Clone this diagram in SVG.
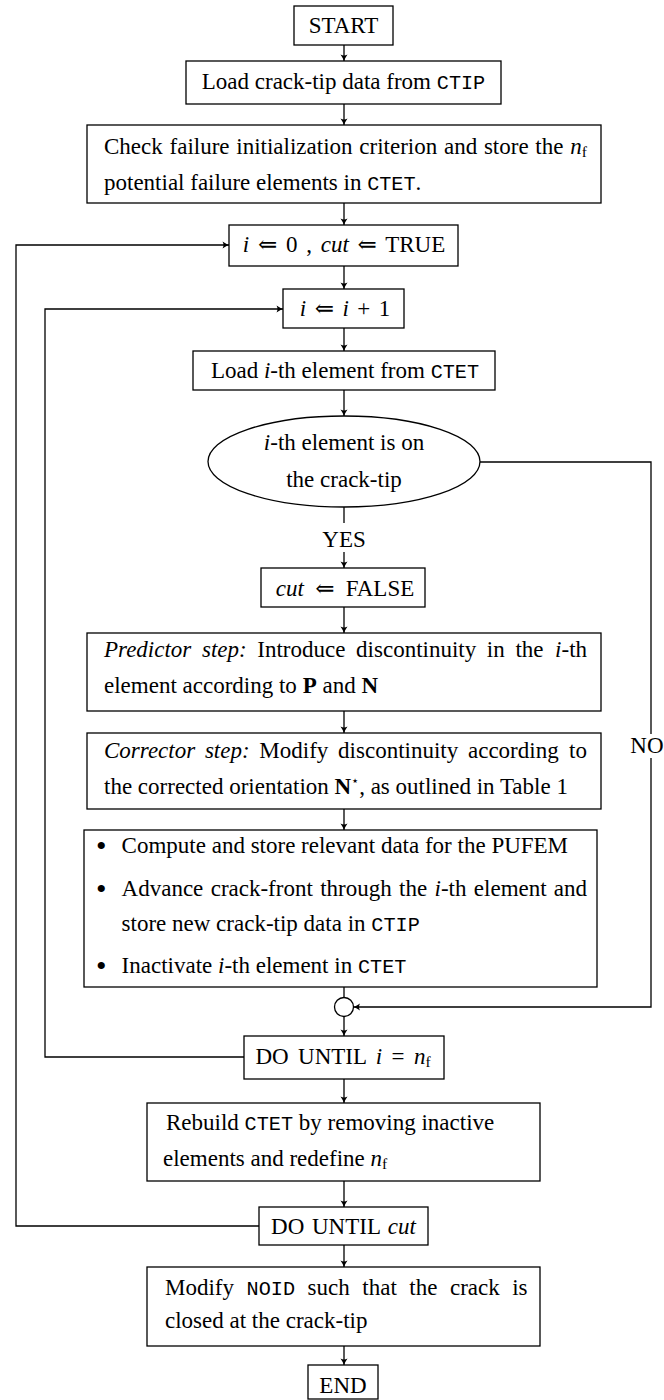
<svg xmlns="http://www.w3.org/2000/svg" width="664" height="1400" viewBox="0 0 664 1400">
<defs>
<style>
.box{fill:#fff;stroke:#000;stroke-width:1.3}
.ln{fill:none;stroke:#000;stroke-width:1.3}
.t{font-family:"Liberation Serif","DejaVu Serif",serif;font-size:23px;fill:#000}
.c{text-anchor:middle}
.m{font-family:"Liberation Mono","DejaVu Sans Mono",monospace;font-size:20.2px}
.it{font-style:italic}
.sub{font-size:15.5px}
.b{font-weight:bold}
.bul{font-family:"Liberation Serif","DejaVu Serif",serif;font-size:30px;fill:#000}
</style>
<marker id="ah" markerWidth="10" markerHeight="10" refX="8" refY="5" orient="auto" markerUnits="userSpaceOnUse">
<path d="M1.5,1.5 Q5.5,4.2 8,5 Q5.5,5.8 1.5,8.5 Q3.5,5 1.5,1.5 Z" fill="#000"/>
</marker>
</defs>
<rect width="664" height="1400" fill="#fff"/>

<g id="connectors">
<line class="ln" x1="344" y1="45" x2="344" y2="61" marker-end="url(#ah)"/>
<line class="ln" x1="344" y1="104" x2="344" y2="125" marker-end="url(#ah)"/>
<line class="ln" x1="344" y1="203" x2="344" y2="225" marker-end="url(#ah)"/>
<line class="ln" x1="344" y1="266" x2="344" y2="289" marker-end="url(#ah)"/>
<line class="ln" x1="344" y1="328" x2="344" y2="351" marker-end="url(#ah)"/>
<line class="ln" x1="344" y1="390" x2="344" y2="416" marker-end="url(#ah)"/>
<line class="ln" x1="344" y1="507" x2="344" y2="523"/>
<line class="ln" x1="344" y1="552" x2="344" y2="568" marker-end="url(#ah)"/>
<line class="ln" x1="344" y1="607" x2="344" y2="633" marker-end="url(#ah)"/>
<line class="ln" x1="344" y1="711" x2="344" y2="733" marker-end="url(#ah)"/>
<line class="ln" x1="344" y1="809" x2="344" y2="830" marker-end="url(#ah)"/>
<line class="ln" x1="344" y1="987" x2="344" y2="997.5"/>
<line class="ln" x1="344" y1="1016.5" x2="344" y2="1036" marker-end="url(#ah)"/>
<line class="ln" x1="344" y1="1079" x2="344" y2="1103" marker-end="url(#ah)"/>
<line class="ln" x1="344" y1="1181" x2="344" y2="1207" marker-end="url(#ah)"/>
<line class="ln" x1="344" y1="1245" x2="344" y2="1267" marker-end="url(#ah)"/>
<line class="ln" x1="344" y1="1346" x2="344" y2="1365" marker-end="url(#ah)"/>
<polyline class="ln" points="480,462 651,462 651,734"/>
<polyline class="ln" points="651,758 651,1007 353.5,1007" marker-end="url(#ah)"/>
<polyline class="ln" points="244,1057 45,1057 45,309 283,309" marker-end="url(#ah)"/>
<polyline class="ln" points="259,1226 16,1226 16,245 229,245" marker-end="url(#ah)"/>
<text class="t c" x="344" y="547">YES</text>
<text class="t" x="663.5" y="753" text-anchor="end">NO</text>
</g>

<g id="start">
<rect class="box" x="294" y="6" width="99" height="39"/>
<text class="t c" x="343.5" y="33">START</text>
</g>

<g id="load-ctip">
<rect class="box" x="186" y="61" width="315" height="43"/>
<text class="t c" x="343.5" y="89">Load crack-tip data from <tspan class="m">CTIP</tspan></text>
</g>

<g id="check">
<rect class="box" x="87" y="125" width="514" height="78"/>
<text class="t" x="104" y="154" word-spacing="1">Check failure initialization criterion and store the <tspan x="570.3" class="it">n</tspan><tspan class="sub" dy="3">f</tspan></text>
<text class="t" x="104" y="190">potential failure elements in <tspan class="m">CTET</tspan>.</text>
</g>

<g id="init">
<rect class="box" x="229" y="225" width="229" height="41"/>
<text class="t c" x="344" y="252" word-spacing="3"><tspan class="it">i</tspan> ⇐ 0 , <tspan class="it">cut</tspan> ⇐ TRUE</text>
</g>

<g id="incr">
<rect class="box" x="283" y="289" width="121" height="39"/>
<text class="t c" x="345" y="316" word-spacing="2.7"><tspan class="it">i</tspan> ⇐ <tspan class="it">i</tspan> + 1</text>
</g>

<g id="load-elem">
<rect class="box" x="193" y="351" width="302" height="39"/>
<text class="t c" x="345" y="378">Load <tspan class="it">i</tspan>-th element from <tspan class="m">CTET</tspan></text>
</g>

<g id="decision">
<ellipse class="box" cx="344" cy="461.5" rx="136" ry="45.5"/>
<text class="t c" x="344" y="450"><tspan class="it">i</tspan>-th element is on</text>
<text class="t c" x="344" y="487">the crack-tip</text>
</g>

<g id="cut-false">
<rect class="box" x="261" y="568" width="164" height="39"/>
<text class="t c" x="345" y="596" word-spacing="5.5"><tspan class="it">cut</tspan> ⇐ FALSE</text>
</g>

<g id="predictor">
<rect class="box" x="87" y="633" width="514" height="78"/>
<text class="t" x="104" y="657" word-spacing="4.9"><tspan class="it">Predictor step:</tspan> Introduce discontinuity in the <tspan x="555.1" class="it">i</tspan>-th</text>
<text class="t" x="104" y="693">element according to <tspan class="b">P</tspan> and <tspan class="b">N</tspan></text>
</g>

<g id="corrector">
<rect class="box" x="87" y="733" width="514" height="76"/>
<text class="t" x="104" y="758" word-spacing="4"><tspan class="it">Corrector step:</tspan> Modify discontinuity according <tspan x="569.1">to</tspan></text>
<text class="t" x="104" y="794">the corrected orientation <tspan class="b">N</tspan><tspan font-size="13" dy="-9">⋆</tspan><tspan dy="9">, as outlined in Table 1</tspan></text>
</g>

<g id="update">
<rect class="box" x="84" y="830" width="513" height="157"/>
<text class="bul" x="96" y="856">•</text>
<text class="t" x="121.6" y="853">Compute and store relevant data for the PUFEM</text>
<text class="bul" x="96" y="899">•</text>
<text class="t" x="121.6" y="896" word-spacing="1.6">Advance crack-front through the <tspan class="it">i</tspan>-th element <tspan x="553.8">and</tspan></text>
<text class="t" x="121.6" y="931">store new crack-tip data in <tspan class="m">CTIP</tspan></text>
<text class="bul" x="96" y="976">•</text>
<text class="t" x="121.6" y="973">Inactivate <tspan class="it">i</tspan>-th element in <tspan class="m">CTET</tspan></text>
</g>

<g id="junction">
<circle class="box" cx="344" cy="1007" r="9.5"/>
</g>

<g id="until-i">
<rect class="box" x="244" y="1036" width="200" height="43"/>
<text class="t c" x="343" y="1064" word-spacing="3.7">DO UNTIL <tspan class="it">i</tspan> = <tspan class="it">n</tspan><tspan class="sub" dy="3">f</tspan></text>
</g>

<g id="rebuild">
<rect class="box" x="147" y="1103" width="393" height="78"/>
<text class="t" x="166" y="1130">Rebuild <tspan class="m">CTET</tspan> by removing inactive</text>
<text class="t" x="163" y="1166">elements and redefine <tspan class="it">n</tspan><tspan class="sub" dy="3">f</tspan></text>
</g>

<g id="until-cut">
<rect class="box" x="259" y="1207" width="169" height="38"/>
<text class="t c" x="343.5" y="1234" word-spacing="2">DO UNTIL <tspan class="it">cut</tspan></text>
</g>

<g id="modify">
<rect class="box" x="147" y="1267" width="393" height="79"/>
<text class="t" x="165" y="1295" word-spacing="6.8">Modify <tspan class="m">NOID</tspan> such that the crack <tspan x="512.2">is</tspan></text>
<text class="t" x="165" y="1328">closed at the crack-tip</text>
</g>

<g id="end">
<rect class="box" x="308" y="1365" width="70" height="34"/>
<text class="t c" x="343" y="1393">END</text>
</g>
</svg>
